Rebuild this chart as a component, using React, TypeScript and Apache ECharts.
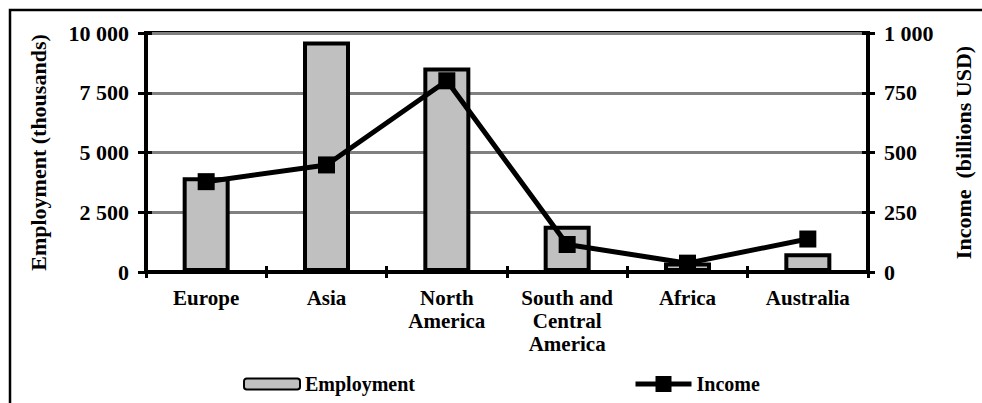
import React, { useEffect, useRef } from "react";
import * as echarts from "echarts";

// Regions and their values
const regions = [
  "Europe",
  "Asia",
  "North\nAmerica",
  "South and\nCentral\nAmerica",
  "Africa",
  "Australia",
];
const employment = [3960, 9640, 8560, 1930, 400, 780]; // thousands
const income = [378, 448, 800, 115, 37, 138]; // billions USD

const FONT = "Liberation Serif";

// Thousands separated by a space: 10 000, 7 500 ...
const fmt = (v: number) => String(v).replace(/\B(?=(\d{3})+(?!\d))/g, " ");

export default function App() {
  const ref = useRef<HTMLDivElement>(null);

  useEffect(() => {
    document.body.style.margin = "0";
    if (!ref.current) return;
    const chart = echarts.init(ref.current, undefined, { renderer: "svg" });

    const labelStyle = {
      fontFamily: FONT,
      fontWeight: "bold" as const,
      fontSize: 21,
      color: "#000",
    };

    // Hidden companion axes only add the inward half of each tick mark
    const innerTicks = (extra: any) => ({
      ...extra,
      axisLine: { show: false },
      axisLabel: { show: false },
      splitLine: { show: false },
      axisTick: { show: true, inside: true, length: 6, lineStyle: { color: "#000", width: 3 } },
    });

    chart.setOption({
      animation: false,
      backgroundColor: "#fff",
      textStyle: { fontFamily: FONT },
      grid: {
        left: 146,
        right: 107,
        top: 33,
        bottom: 131,
        show: true,
        borderColor: "#000",
        borderWidth: 4,
        backgroundColor: "transparent",
      },
      graphic: [
        {
          type: "rect",
          shape: { x: 10, y: 10, width: 1200, height: 600 },
          style: { fill: "none", stroke: "#000", lineWidth: 2.5 },
          silent: true,
        },
      ],
      legend: [
        {
          data: ["Employment"],
          left: 243,
          top: 374,
          padding: 0,
          itemWidth: 56,
          itemHeight: 11,
          itemGap: 0,
          textStyle: { ...labelStyle, fontSize: 20 },
        },
        {
          data: ["Income"],
          left: 633,
          top: 374,
          padding: 0,
          itemWidth: 56,
          itemHeight: 20,
          lineStyle: { color: "#000", width: 5 },
          textStyle: { ...labelStyle, fontSize: 20 },
        },
      ],
      xAxis: [
        {
          type: "category",
          data: regions,
          axisLine: { lineStyle: { color: "#000", width: 4 } },
          axisTick: { show: true, length: 6, lineStyle: { color: "#000", width: 3 } },
          axisLabel: { ...labelStyle, margin: 14, lineHeight: 23, interval: 0 },
        },
        innerTicks({ type: "category", data: regions, position: "bottom" }),
      ],
      yAxis: [
        {
          type: "value",
          min: 0,
          max: 10000,
          interval: 2500,
          position: "left",
          name: "Employment (thousands)",
          nameLocation: "middle",
          nameRotate: 90,
          nameGap: 97,
          nameTextStyle: { ...labelStyle, fontSize: 22 },
          axisLine: { show: true, lineStyle: { color: "#000", width: 4 } },
          axisTick: { show: true, length: 8, lineStyle: { color: "#000", width: 3 } },
          axisLabel: { ...labelStyle, fontSize: 22, margin: 17, formatter: fmt },
          splitLine: { show: true, lineStyle: { color: "#808080", width: 3 } },
        },
        {
          type: "value",
          min: 0,
          max: 1000,
          interval: 250,
          position: "right",
          name: "Income  (billions USD)",
          nameLocation: "middle",
          nameRotate: 90,
          nameGap: 84,
          nameTextStyle: { ...labelStyle, fontSize: 22 },
          axisLine: { show: true, lineStyle: { color: "#000", width: 4 } },
          axisTick: { show: true, length: 7, lineStyle: { color: "#000", width: 3 } },
          axisLabel: { ...labelStyle, fontSize: 22, margin: 16, formatter: fmt },
          splitLine: { show: false },
        },
        innerTicks({ type: "value", min: 0, max: 10000, interval: 2500, position: "left" }),
        innerTicks({ type: "value", min: 0, max: 1000, interval: 250, position: "right" }),
      ],
      series: [
        {
          name: "Employment",
          type: "bar",
          data: employment,
          barWidth: 47,
          yAxisIndex: 0,
          itemStyle: { color: "#c0c0c0", borderColor: "#000", borderWidth: 4 },
          z: 2,
        },
        {
          name: "Income",
          type: "line",
          data: income,
          yAxisIndex: 1,
          symbol: "rect",
          symbolSize: 17,
          lineStyle: { color: "#000", width: 5 },
          itemStyle: { color: "#000" },
          z: 3,
        },
      ],
    });

    return () => chart.dispose();
  }, []);

  return <div ref={ref} style={{ width: 982, height: 403 }} />;
}
